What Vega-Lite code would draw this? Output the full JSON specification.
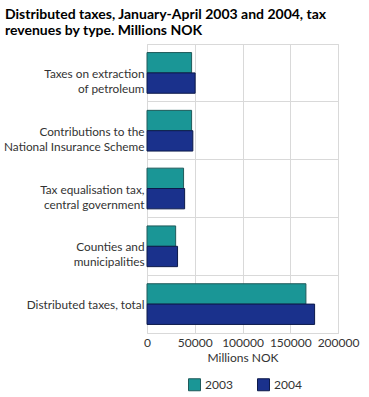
{
  "$schema": "https://vega.github.io/schema/vega-lite/v6.json",
  "width": 191,
  "height": 289,
  "autosize": "none",
  "padding": {"left": 147, "top": 44, "right": 31, "bottom": 64},
  "background": "white",
  "title": {
    "text": ["Distributed taxes, January-April 2003 and 2004, tax", "revenues by type. Millions NOK"],
    "anchor": "start",
    "frame": "group",
    "dx": -142,
    "offset": 6,
    "font": "Lato",
    "fontSize": 14,
    "fontWeight": "bold",
    "lineHeight": 16,
    "color": "#000000"
  },
  "config": {
    "font": "Lato",
    "view": {"stroke": "#d9d9d9", "strokeWidth": 1}
  },
  "data": {
    "values": [
      {"category": "Taxes on extraction\u00a0|of petroleum", "year": "2003", "value": 46700},
      {"category": "Taxes on extraction\u00a0|of petroleum", "year": "2004", "value": 50400},
      {"category": "Contributions to the\u00a0|National Insurance Scheme", "year": "2003", "value": 46700},
      {"category": "Contributions to the\u00a0|National Insurance Scheme", "year": "2004", "value": 48000},
      {"category": "Tax equalisation tax,|central government", "year": "2003", "value": 38300},
      {"category": "Tax equalisation tax,|central government", "year": "2004", "value": 39400},
      {"category": "Counties and\u00a0|municipalities", "year": "2003", "value": 30000},
      {"category": "Counties and\u00a0|municipalities", "year": "2004", "value": 32000},
      {"category": "Distributed taxes, total", "year": "2003", "value": 166400},
      {"category": "Distributed taxes, total", "year": "2004", "value": 175500}
    ]
  },
  "mark": {"type": "bar", "strokeWidth": 1},
  "encoding": {
    "y": {
      "field": "category",
      "type": "nominal",
      "sort": null,
      "scale": {"paddingInner": 0, "paddingOuter": 0},
      "axis": {
        "title": null,
        "ticks": false,
        "domain": false,
        "grid": true,
        "bandPosition": 0,
        "gridColor": "#d9d9d9",
        "gridWidth": 1,
        "labelPadding": 3,
        "labelFontSize": 11.8,
        "labelColor": "#333333",
        "labelLimit": 200,
        "labelLineHeight": 15,
        "labelBaseline": "top",
        "labelOffset": -4,
        "labelExpr": "split(datum.label, '|')"
      }
    },
    "yOffset": {
      "field": "year",
      "type": "nominal",
      "scale": {"paddingInner": 0, "paddingOuter": 0.42}
    },
    "x": {
      "field": "value",
      "type": "quantitative",
      "scale": {"domain": [0, 200000], "nice": false},
      "axis": {
        "title": "Millions NOK",
        "titleFontWeight": "normal",
        "titleFontSize": 12,
        "titleColor": "#333333",
        "titlePadding": 4,
        "values": [0, 50000, 100000, 150000, 200000],
        "format": "d",
        "ticks": false,
        "labelPadding": 4,
        "labelFlush": false,
        "labelFontSize": 12,
        "labelColor": "#333333",
        "domainColor": "#d9d9d9",
        "gridColor": "#d9d9d9"
      }
    },
    "color": {
      "field": "year",
      "type": "nominal",
      "scale": {"range": ["#1a9696", "#1a318c"]},
      "legend": {
        "orient": "none",
        "legendX": 41,
        "legendY": 334,
        "direction": "horizontal",
        "title": null,
        "symbolType": "square",
        "symbolSize": 144,
        "symbolStrokeWidth": 1,
        "symbolOpacity": 1,
        "labelFontSize": 12,
        "labelColor": "#333333",
        "columnPadding": 22,
        "padding": 0
      }
    },
    "stroke": {
      "field": "year",
      "type": "nominal",
      "scale": {"range": ["#1f5a5a", "#0c1a4a"]}
    }
  }
}
